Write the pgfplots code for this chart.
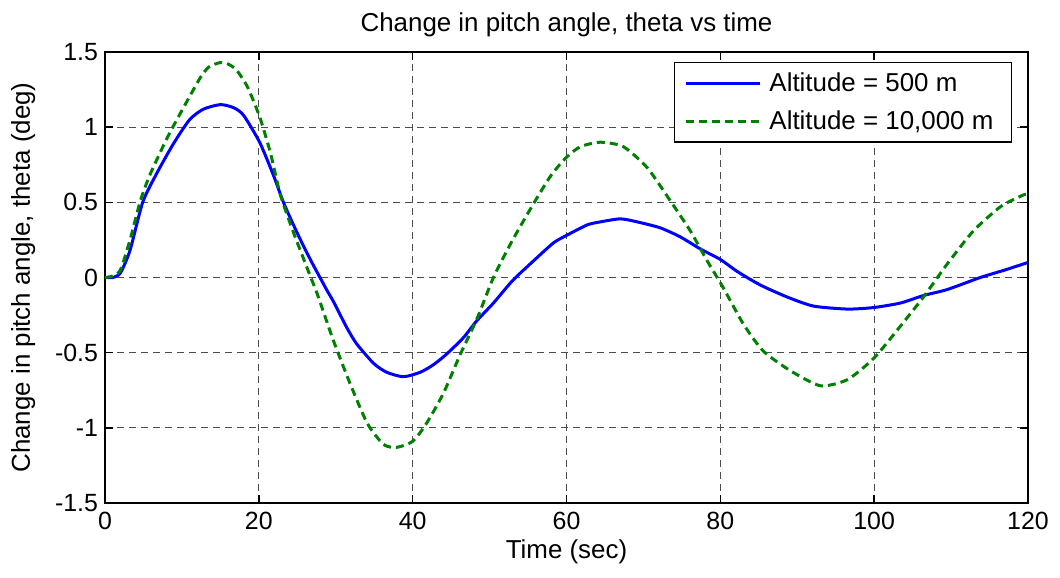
\documentclass[border=0pt]{standalone}
\usepackage{pgfplots}
\pgfplotsset{compat=1.18}
\usepackage{fontspec}
\setmainfont{Liberation Sans}
\definecolor{mgreen}{rgb}{0,0.5,0}
\begin{document}
\begin{tikzpicture}
\begin{axis}[
  name=ax,
  scale only axis,
  width=461.5bp, height=225.5bp,
  xmin=0, xmax=120, ymin=-1.5, ymax=1.5,
  xtick={0,20,40,60,80,100,120},
  ytick={-1.5,-1,-0.5,0,0.5,1,1.5},
  yticklabels={-1.5,-1,-0.5,0,0.5,1,1.5},
  xticklabels={0,20,40,60,80,100,120},
  tick align=inside,
  major tick length=4bp,
  tick style={black, line width=0.8bp},
  axis line style={black, line width=1.2bp},
  grid=major,
  major grid style={dash pattern=on 3.5bp off 2.5bp, gray!60!black, line width=0.5bp},
  tick label style={font=\fontsize{12.5}{14}\selectfont},
  xticklabel style={yshift=-1bp},
  title={Change in pitch angle, theta vs time},
  title style={font=\fontsize{13}{15}\selectfont, yshift=-2bp},
  xlabel={Time (sec)},
  ylabel={Change in pitch angle, theta (deg)},
  label style={font=\fontsize{13}{15}\selectfont},
  xlabel style={yshift=2bp},
  ylabel style={yshift=3bp},
  legend style={at={(axis cs:120,1.5)}, anchor=north east, xshift=-8bp, yshift=-5bp,
    draw=black, line width=0.6bp, fill=white, font=\fontsize{13}{15}\selectfont,
    inner xsep=5bp, inner ysep=3bp, row sep=4bp,
    nodes={inner xsep=4bp}},
  legend cell align=left,
  legend image code/.code={\draw[#1] (0bp,0bp) -- (37bp,0bp);},
]
\addplot[blue, line width=1.5bp, smooth, tension=0.4] coordinates {
(0,0) (1,0) (2,0.03) (3.25,0.18) (4.9,0.5) (6.7,0.69) (8.9,0.89) (11,1.05) (12.8,1.12)
(15,1.15) (16.7,1.13) (18,1.08) (20.1,0.9) (21.9,0.68) (23.2,0.5) (24.5,0.35) (25.8,0.21)
(27,0.09) (28.8,-0.08) (29.7,-0.16) (31.4,-0.33) (32.7,-0.44) (34.9,-0.57) (36.6,-0.63)
(38.8,-0.66) (41,-0.63) (42.7,-0.58) (44.4,-0.51) (46.6,-0.4) (48.3,-0.29) (50.5,-0.17)
(53,-0.02) (55.7,0.11) (58.3,0.23) (60,0.28) (62.7,0.35) (64.4,0.37) (67,0.39) (69.2,0.37)
(72.2,0.33) (74.8,0.27) (77.4,0.19) (80,0.12) (82.2,0.04) (85.2,-0.05) (88.7,-0.13)
(92.1,-0.19) (96.5,-0.21) (99.9,-0.2) (103.4,-0.17) (106.4,-0.12) (109.5,-0.08)
(113.8,0) (117,0.05) (120,0.1)
};
\addlegendentry{Altitude = 500 m}
\addplot[mgreen, line width=1.5bp, dash pattern=on 4bp off 2.5bp, smooth, tension=0.4] coordinates {
(0,0) (1,0.01) (2,0.05) (3.25,0.25) (4.6,0.51) (5.9,0.69) (8.1,0.93) (10.2,1.13) (12.4,1.33)
(13.5,1.40) (15,1.43) (16,1.42) (17.1,1.38) (18.5,1.27) (20.1,1.07) (21.5,0.83) (22.8,0.55)
(24.5,0.3) (25.4,0.18) (26.6,0.02) (27.6,-0.11) (29.7,-0.42) (31.9,-0.71) (34.1,-0.97)
(36.2,-1.11) (37.9,-1.13) (40,-1.09) (41.8,-0.97) (44,-0.77) (46.2,-0.51) (48.4,-0.27)
(50.5,0.0) (53,0.25) (55.7,0.49) (58,0.68) (60,0.8) (61.8,0.87) (64.4,0.9) (67.4,0.87)
(70.5,0.73) (73.5,0.51) (76.1,0.31) (78.3,0.11) (80.4,-0.07) (83,-0.31) (85.6,-0.49)
(89.1,-0.62) (93,-0.72) (96.5,-0.68) (99.9,-0.54) (103,-0.35) (106.4,-0.13) (109.5,0.09)
(112.9,0.31) (116.4,0.47) (119,0.54) (120,0.56)
};
\addlegendentry{Altitude = 10,000 m}
\end{axis}
\pgfresetboundingbox
\useasboundingbox ([shift={(-52.5bp,-37.5bp)}]ax.south west) rectangle ([shift={(16bp,26bp)}]ax.north east);
\end{tikzpicture}
\end{document}
